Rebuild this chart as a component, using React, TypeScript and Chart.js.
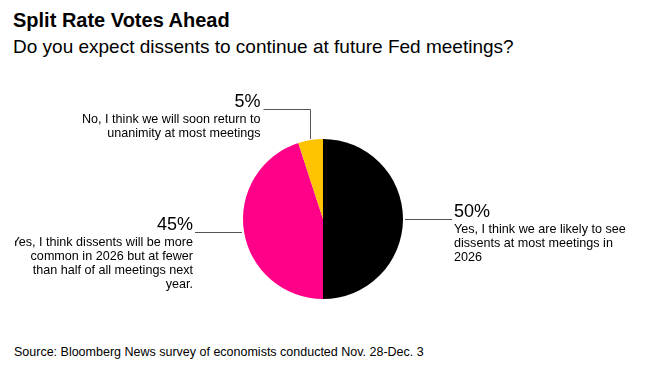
import React, { useEffect, useRef } from "react";
import { Chart, registerables } from "chart.js";

Chart.register(...registerables);

const TITLE = "Split Rate Votes Ahead";
const SUBTITLE = "Do you expect dissents to continue at future Fed meetings?";
const SOURCE = "Source: Bloomberg News survey of economists conducted Nov. 28-Dec. 3";

const categories: string[][] = [
  ["Yes, I think we are likely to see", "dissents at most meetings in", "2026"],
  ["Yes, I think dissents will be more", "common in 2026 but at fewer", "than half of all meetings next", "year."],
  ["No, I think we will soon return to", "unanimity at most meetings"],
];
const values: number[] = [50, 45, 5];
const colors: string[] = ["#000000", "#ff0089", "#ffc300"];

const FONT = "'Liberation Sans', Arial, sans-serif";

const labelPlugin = {
  id: "pieLabels",
  afterDatasetsDraw(chart: any) {
    const ctx = chart.ctx as CanvasRenderingContext2D;
    const meta = chart.getDatasetMeta(0);
    const vals = chart.data.datasets[0].data as number[];
    ctx.save();
    meta.data.forEach((arc: any, i: number) => {
      const { x, y, startAngle, endAngle, outerRadius } = arc.getProps(
        ["x", "y", "startAngle", "endAngle", "outerRadius"],
        true
      );
      const mid = (startAngle + endAngle) / 2;
      const cos = Math.cos(mid);
      const sin = Math.sin(mid);
      const ex = x + cos * outerRadius;
      const ey = y + sin * outerRadius;
      let lineY: number;
      let textX: number;
      let align: CanvasTextAlign;
      ctx.strokeStyle = "#555555";
      ctx.lineWidth = 1;
      ctx.beginPath();
      if (Math.abs(cos) < 0.5 && sin < 0) {
        // elbow: up, then sideways
        const dir = cos < 0 ? -1 : 1;
        lineY = Math.round(ey - 31) + 0.5;
        const vx = Math.round(ex) + 0.5;
        ctx.moveTo(vx, ey - 1);
        ctx.lineTo(vx, lineY);
        const endX = vx + dir * 47;
        ctx.lineTo(endX, lineY);
        textX = endX + dir * 3;
        align = dir < 0 ? "right" : "left";
      } else {
        const dir = cos < 0 ? -1 : 1;
        lineY = Math.round(ey) + 0.5;
        const sx = ex + dir * 2;
        const endX = ex + dir * 49;
        ctx.moveTo(sx, lineY);
        ctx.lineTo(endX, lineY);
        textX = endX + dir * 2;
        align = dir < 0 ? "right" : "left";
      }
      ctx.stroke();
      ctx.fillStyle = "#000000";
      ctx.textAlign = align;
      ctx.textBaseline = "alphabetic";
      ctx.font = `18px ${FONT}`;
      ctx.fillText(`${vals[i]}%`, textX, lineY - 3);
      ctx.font = `12.6px ${FONT}`;
      const lines = categories[i];
      lines.forEach((ln, k) => {
        ctx.fillText(ln, textX, lineY + 13 + k * 14.3);
      });
    });
    ctx.restore();
  },
};

export default function App() {
  const ref = useRef<HTMLCanvasElement>(null);
  useEffect(() => {
    if (!ref.current) return;
    const chart = new Chart(ref.current, {
      type: "pie",
      data: {
        labels: categories.map((c) => c.join(" ")),
        datasets: [
          {
            data: values,
            backgroundColor: colors,
            borderWidth: 0,
          },
        ],
      },
      options: {
        animation: false,
        responsive: false,
        devicePixelRatio: 1,
        layout: { padding: { left: 0, right: 17, top: 79, bottom: 41 } },
        plugins: {
          legend: { display: false },
          tooltip: { enabled: false },
        },
      },
      plugins: [labelPlugin],
    });
    return () => chart.destroy();
  }, []);

  return (
    <div
      style={{
        position: "fixed",
        left: 0,
        top: 0,
        width: 648,
        height: 371,
        background: "#ffffff",
        fontFamily: FONT,
        color: "#000",
        overflow: "hidden",
      }}
    >
      <div
        style={{
          position: "absolute",
          left: 13,
          top: 10,
          fontSize: 20,
          lineHeight: "20px",
          fontWeight: 700,
          whiteSpace: "nowrap",
        }}
      >
        {TITLE}
      </div>
      <div
        style={{
          position: "absolute",
          left: 13,
          top: 37,
          fontSize: 19,
          lineHeight: "19px",
          whiteSpace: "nowrap",
        }}
      >
        {SUBTITLE}
      </div>
      <canvas
        ref={ref}
        width={633}
        height={280}
        style={{ position: "absolute", left: 15, top: 60, width: 633, height: 280 }}
      />
      <div
        style={{
          position: "absolute",
          left: 14,
          top: 346,
          fontSize: 12.5,
          lineHeight: "12.5px",
          whiteSpace: "nowrap",
        }}
      >
        {SOURCE}
      </div>
    </div>
  );
}
